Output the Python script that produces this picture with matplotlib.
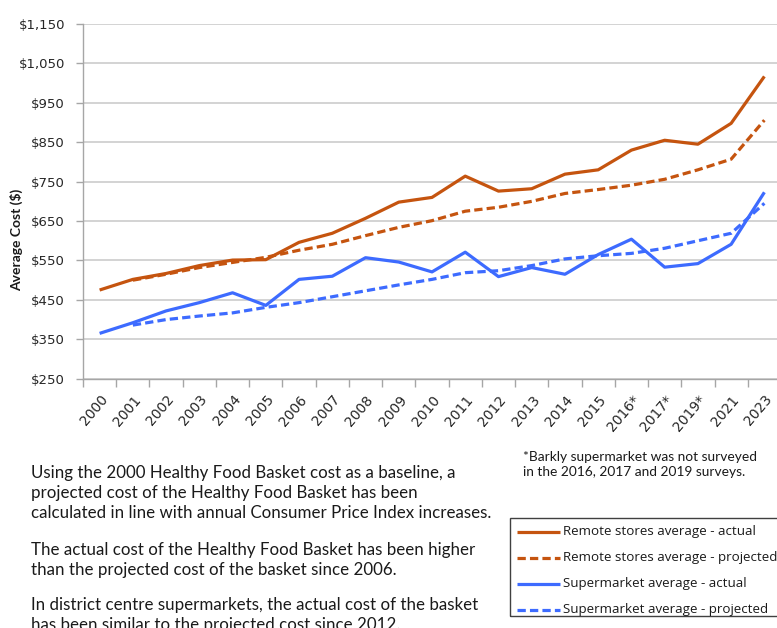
import matplotlib
matplotlib.use("Agg")
import matplotlib.pyplot as plt
from matplotlib.lines import Line2D
from matplotlib.patches import Rectangle
import numpy as np

years = ["2000", "2001", "2002", "2003", "2004", "2005", "2006", "2007", "2008", "2009",
         "2010", "2011", "2012", "2013", "2014", "2015", "2016*", "2017*", "2019*", "2021", "2023"]

remote_actual = [475, 502, 517, 537, 551, 552, 596, 619, 657, 698,
                 710, 764, 726, 732, 769, 780, 830, 855, 845, 898, 1017]
remote_projected = [None, 500, 515, 532, 545, 558, 576, 591, 613, 634,
                    651, 675, 685, 700, 720, 730, 741, 756, 780, 807, 906]
super_actual = [365, 392, 422, 443, 468, 436, 502, 510, 557, 546,
                521, 571, 509, 532, 515, 565, 604, 533, 542, 591, 723]
super_projected = [None, 386, 400, 409, 417, 431, 443, 458, 473, 488,
                   502, 519, 524, 537, 554, 562, 568, 581, 600, 619, 695]

yticks = [250, 350, 450, 550, 650, 750, 850, 950, 1050, 1150]
ytick_labels = ["$250", "$350", "$450", "$550", "$650", "$750", "$850", "$950", "$1,050", "$1,150"]

labels = ["Remote stores average - actual", "Remote stores average - projected",
          "Supermarket average - actual", "Supermarket average - projected"]

ORANGE = "#C5540F"
BLUE = "#3D6BFF"
GRID = "#D0D0D0"
AXC = "#A6A6A6"

W, H = 777, 628
fig = plt.figure(figsize=(W / 100, H / 100), dpi=100)
ax = fig.add_axes([83 / W, 1 - 378.7 / H, (781 - 83) / W, (378.7 - 24) / H])

x = np.arange(len(years))

def to_arr(v):
    return np.array([np.nan if a is None else a for a in v], dtype=float)

lw = 2.3
dash = (2.6, 1.3)
ax.plot(x, to_arr(remote_actual), color=ORANGE, lw=lw, solid_capstyle="butt", zorder=3)
ax.plot(x, to_arr(remote_projected), color=ORANGE, lw=lw, dashes=dash, zorder=3)
ax.plot(x, to_arr(super_actual), color=BLUE, lw=lw, solid_capstyle="butt", zorder=3)
ax.plot(x, to_arr(super_projected), color=BLUE, lw=lw, dashes=dash, zorder=3)

ax.set_xlim(-0.5, len(years) - 0.5)
ax.set_ylim(250, 1150)
ax.set_yticks(yticks)
ax.set_yticklabels(ytick_labels, fontsize=9.5, color="#262626", family="DejaVu Sans")
ax.grid(axis="y", color=GRID, lw=1.3, zorder=0)
ax.set_axisbelow(True)

ax.set_xticks(x)
ax.set_xticklabels(years, rotation=50, ha="right", va="top", rotation_mode="anchor",
                   fontsize=10, color="#262626", family="DejaVu Sans")
ax.set_xticks(np.arange(-0.5, len(years) + 0.5, 1), minor=True)
ax.tick_params(axis="x", which="major", length=0, pad=10)
ax.tick_params(axis="x", which="minor", length=6, color=AXC, width=1)
ax.tick_params(axis="y", which="major", length=5, color=AXC, width=1, pad=8)

for s in ["top", "right"]:
    ax.spines[s].set_visible(False)
for s in ["left", "bottom"]:
    ax.spines[s].set_color(AXC)
    ax.spines[s].set_linewidth(1)

fig.text(17 / W, 1 - 240 / H, "Average Cost ($)", rotation=90, ha="center", va="center",
         fontsize=10, fontweight="bold", family="Lato", color="#1a1a1a")

# Explanatory text
body = dict(fontsize=12.2, family="Lato", color="#1a1a1a", ha="left", va="center")
lines = [
    (473, "Using the 2000 Healthy Food Basket cost as a baseline, a"),
    (493, "projected cost of the Healthy Food Basket has been"),
    (513, "calculated in line with annual Consumer Price Index increases."),
    (550, "The actual cost of the Healthy Food Basket has been higher"),
    (570, "than the projected cost of the basket since 2006."),
    (605, "In district centre supermarkets, the actual cost of the basket"),
    (625, "has been similar to the projected cost since 2012."),
]
for yy, t in lines:
    fig.text(31 / W, 1 - yy / H, t, **body)

foot = dict(fontsize=9.9, family="Lato", color="#1a1a1a", ha="left", va="center")
fig.text(523 / W, 1 - 457 / H, "*Barkly supermarket was not surveyed", **foot)
fig.text(523 / W, 1 - 472 / H, "in the 2016, 2017 and 2019 surveys.", **foot)

# Legend box
fig.add_artist(Rectangle((510 / W, 1 - 616 / H), (800 - 510) / W, (616 - 518) / H,
                         transform=fig.transFigure, fill=False, edgecolor="#404040", lw=1))
styles = [(ORANGE, None), (ORANGE, dash), (BLUE, None), (BLUE, dash)]
rows = [532, 558, 584, 610]
for (c, d), yy, lab in zip(styles, rows, labels):
    ln = Line2D([517 / W, 560 / W], [1 - yy / H, 1 - yy / H], transform=fig.transFigure,
                color=c, lw=lw, solid_capstyle="butt")
    if d is not None:
        ln.set_dashes(d)
    fig.add_artist(ln)
    fig.text(563 / W, 1 - yy / H, lab, fontsize=9.6, family="Open Sans", color="#1a1a1a",
             ha="left", va="center")

fig.savefig("out.png", dpi=100)
